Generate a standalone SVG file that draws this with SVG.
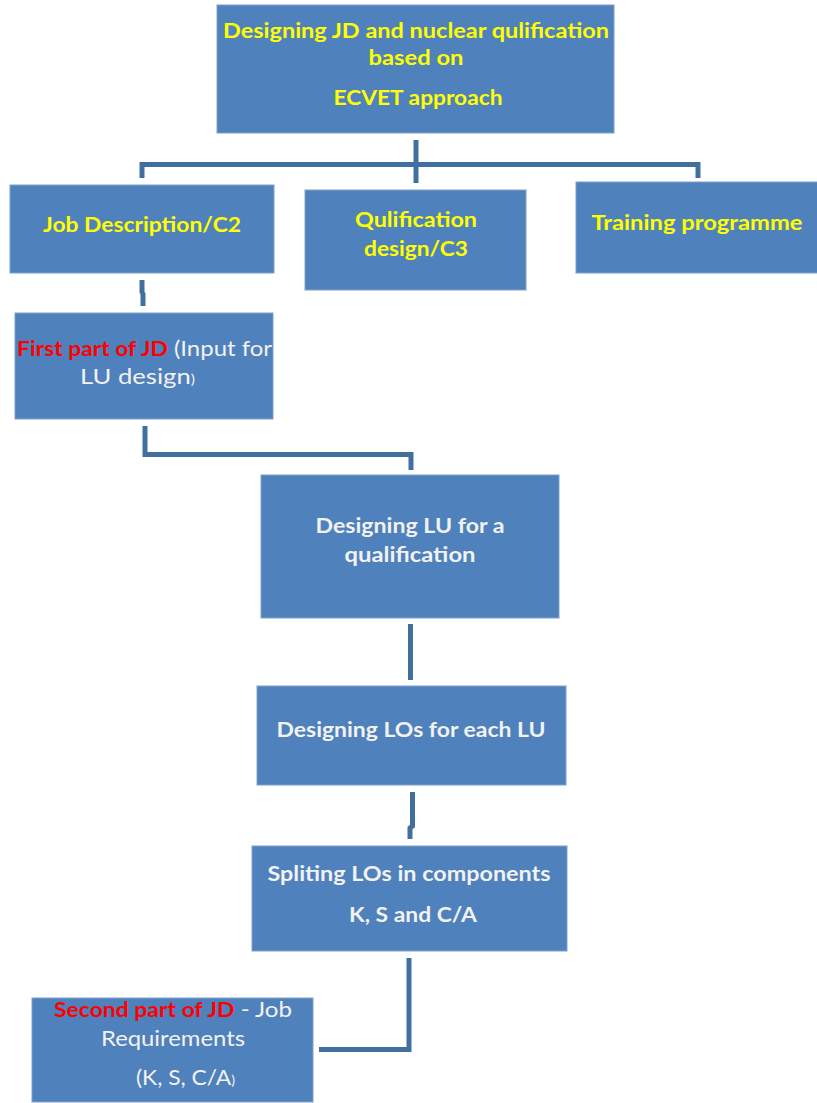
<svg xmlns="http://www.w3.org/2000/svg" width="817" height="1103" viewBox="0 0 817 1103">
  <style>
    .box { fill: #4F81BD; stroke: #7FA1CD; stroke-width: 1; }
    .lbl { font-family: Lato, "Open Sans", "Liberation Sans", sans-serif; font-weight: bold; font-size: 20px; text-anchor: middle; }
    .yel { fill: #FFFF00; }
    .wht { fill: #F2F2F2; }
    .red { fill: #FF0000; }
    .reg { font-weight: normal; font-size: 21px; }
    .sm { font-size: 13px; }
    .conn { fill: none; stroke: #41709F; stroke-width: 5; stroke-linejoin: miter; }
  </style>

  <!-- connectors -->
  <g id="connectors">
    <path class="conn" d="M416,140 V183"/>
    <path class="conn" d="M142,178 V164.5 H698 V178"/>
    <path class="conn" d="M142,280 V292 L143,294 V306"/>
    <path class="conn" d="M145,426 V454.5 H411 V470"/>
    <path class="conn" d="M410.5,624 V680"/>
    <path class="conn" d="M412.5,792 V826 L410,828 V839"/>
    <path class="conn" d="M409,958 V1049.5 H319"/>
  </g>

  <g id="top">
    <rect class="box" x="217" y="5" width="397" height="128"/>
    <text class="lbl yel" x="416" y="38" textLength="386" lengthAdjust="spacingAndGlyphs">Designing JD and nuclear qulification</text>
    <text class="lbl yel" x="416" y="65" textLength="95" lengthAdjust="spacingAndGlyphs">based on</text>
    <text class="lbl yel" x="418" y="105" textLength="169" lengthAdjust="spacingAndGlyphs">ECVET approach</text>
  </g>

  <g id="job-description">
    <rect class="box" x="10" y="185" width="264" height="88"/>
    <text class="lbl yel" x="142" y="232" textLength="198" lengthAdjust="spacingAndGlyphs">Job Description/C2</text>
  </g>

  <g id="qualification-design">
    <rect class="box" x="305" y="190" width="221" height="100"/>
    <text class="lbl yel" x="416" y="227" textLength="122" lengthAdjust="spacingAndGlyphs">Qulification</text>
    <text class="lbl yel" x="416" y="256" textLength="104" lengthAdjust="spacingAndGlyphs">design/C3</text>
  </g>

  <g id="training-programme">
    <rect class="box" x="576" y="182" width="245" height="91"/>
    <text class="lbl yel" x="697" y="230" textLength="211" lengthAdjust="spacingAndGlyphs">Training programme</text>
  </g>

  <g id="first-part">
    <rect class="box" x="15" y="313" width="258" height="106"/>
    <text class="lbl" x="144.5" y="356" textLength="255" lengthAdjust="spacingAndGlyphs"><tspan class="red">First part of JD</tspan><tspan class="wht reg"> (Input for</tspan></text>
    <text class="lbl wht reg" x="137.5" y="384" textLength="115" lengthAdjust="spacingAndGlyphs">LU design<tspan class="sm">)</tspan></text>
  </g>

  <g id="designing-lu">
    <rect class="box" x="261" y="475" width="298" height="143"/>
    <text class="lbl wht" x="410" y="533" textLength="189" lengthAdjust="spacingAndGlyphs">Designing LU for a</text>
    <text class="lbl wht" x="410" y="562" textLength="131" lengthAdjust="spacingAndGlyphs">qualification</text>
  </g>

  <g id="designing-los">
    <rect class="box" x="257" y="686" width="309" height="99"/>
    <text class="lbl wht" x="411" y="737" textLength="269" lengthAdjust="spacingAndGlyphs">Designing LOs for each LU</text>
  </g>

  <g id="splitting-los">
    <rect class="box" x="252" y="846" width="315" height="105"/>
    <text class="lbl wht" x="409" y="881" textLength="283" lengthAdjust="spacingAndGlyphs">Spliting LOs in components</text>
    <text class="lbl wht" x="413" y="922" textLength="128" lengthAdjust="spacingAndGlyphs">K, S and C/A</text>
  </g>

  <g id="second-part">
    <rect class="box" x="32" y="998" width="281" height="104"/>
    <text class="lbl" x="173" y="1017" textLength="238" lengthAdjust="spacingAndGlyphs"><tspan class="red">Second part of JD</tspan><tspan class="wht reg"> - Job</tspan></text>
    <text class="lbl wht reg" x="173" y="1046" textLength="144" lengthAdjust="spacingAndGlyphs">Requirements</text>
    <text class="lbl wht reg" x="185.5" y="1085" textLength="99" lengthAdjust="spacingAndGlyphs">(K, S, C/A<tspan class="sm">)</tspan></text>
  </g>
</svg>
